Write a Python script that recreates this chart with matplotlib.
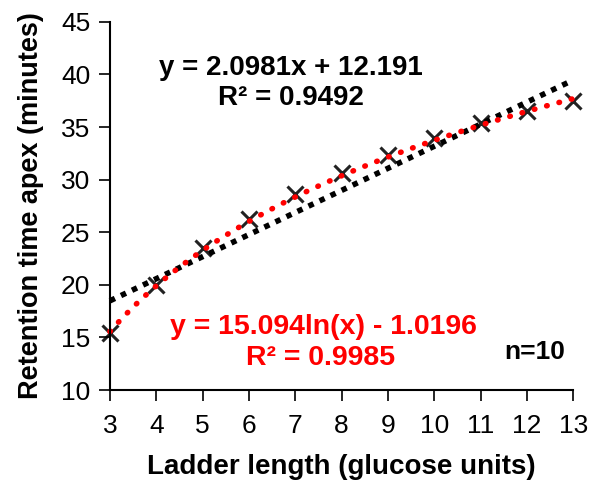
import numpy as np
import matplotlib.pyplot as plt

plt.rcParams['font.family'] = ['Liberation Sans', 'DejaVu Sans']

# ladder length (glucose units) and retention time apex (min)
glu = [3, 4, 5, 6, 7, 8, 9, 10, 11, 12, 13]
rt = [15.4, 20.0, 23.5, 26.3, 28.6, 30.6, 32.3, 34.0, 35.4, 36.5, 37.5]

# trendline coefficients from the chart
lin_a, lin_b = 2.0981, 12.191
log_a, log_b = 15.094, -1.0196

fig = plt.figure(figsize=(5.91, 4.84), dpi=100)
ax = fig.add_axes([0.186, 0.194, 0.784, 0.761])

xx = np.linspace(glu[0], glu[-1], 200)
ax.plot(xx, lin_a * xx + lin_b, ls=(0, (1, 1.2)), lw=4, color='black', dash_capstyle='butt')
ax.plot(xx, log_a * np.log(xx) + log_b, ls=(0, (0.1, 2.2)), lw=4, color='red', dash_capstyle='round')
ax.plot(glu, rt, ls='none', marker='x', ms=11, mew=2.2, color='#222222', zorder=1)

ax.set_xlim(3, 13)
ax.set_ylim(10, 45)
ax.set_xticks(range(3, 14))
ax.set_yticks(range(10, 46, 5))
ax.spines['top'].set_visible(False)
ax.spines['right'].set_visible(False)
ax.spines['left'].set_linewidth(1.5)
ax.spines['bottom'].set_linewidth(1.5)
ax.tick_params(direction='out', length=8, width=1.2, labelsize=19)
ax.tick_params(axis='x', pad=9)
ax.tick_params(axis='y', pad=6)

ax.set_xlabel('Ladder length (glucose units)', fontsize=20, fontweight='bold', labelpad=12)
ax.set_ylabel('Retention time apex (minutes)', fontsize=19.5, fontweight='bold', labelpad=12)

ax.text(0.39, 0.875, 'y = 2.0981x + 12.191', transform=ax.transAxes, ha='center', va='center',
        fontsize=20, fontweight='bold')
ax.text(0.39, 0.793, 'R² = 0.9492', transform=ax.transAxes, ha='center', va='center',
        fontsize=20, fontweight='bold')
ax.text(0.46, 0.171, 'y = 15.094ln(x) - 1.0196', transform=ax.transAxes, ha='center', va='center',
        fontsize=20.5, fontweight='bold', color='red')
ax.text(0.455, 0.087, 'R² = 0.9985', transform=ax.transAxes, ha='center', va='center',
        fontsize=20.5, fontweight='bold', color='red')
ax.text(0.916, 0.103, 'n=10', transform=ax.transAxes, ha='center', va='center',
        fontsize=19, fontweight='bold')

for line in ax.lines:
    line.set_clip_on(False)

fig.savefig('out.png', dpi=100)
